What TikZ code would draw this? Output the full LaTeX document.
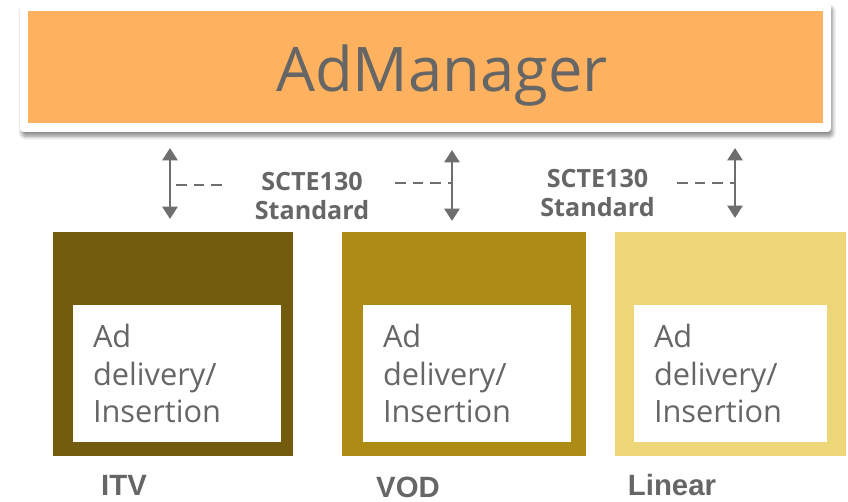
\documentclass[tikz,border=0pt]{standalone}
\usepackage{fontspec}
\setmainfont{Open Sans}
\newfontfamily\labelfont{Liberation Sans}
\usepackage{tikz}
\usetikzlibrary{arrows.meta, positioning, shadows.blur}
\definecolor{AdOrange}{HTML}{FEB25F}
\definecolor{AdGrey}{HTML}{666666}
\definecolor{AdArrow}{HTML}{6E6E6E}
\definecolor{ITVBrown}{HTML}{735C0E}
\definecolor{VODGold}{HTML}{AE8B14}
\definecolor{LinearSand}{HTML}{EDD677}
\tikzset{
    outerbox/.style={fill=#1, draw=none, inner sep=0pt},
    innerbox/.style={fill=white, draw=none, text=AdGrey, align=left, inner xsep=0.4cm, inner ysep=0pt,
        minimum height=2.74cm, font=\fontsize{17.5}{21.6}\selectfont},
    kindlabel/.style={anchor=base, text=AdGrey, inner sep=0pt, font=\labelfont\bfseries\fontsize{16.7}{20}\selectfont},
    stdlabel/.style={text=AdGrey, align=center, inner sep=0pt, font=\bfseries\fontsize{14.3}{17}\selectfont},
    linkarrow/.style={AdArrow, line width=1.5pt, {Triangle[length=7pt,width=8.5pt]}-{Triangle[length=7pt,width=8.5pt]}},
    linkdash/.style={AdArrow, line width=1.4pt, dash pattern=on 6pt off 4pt}
}

\begin{document}
\begin{tikzpicture}[x=0.02cm, y=-0.02cm]

    \useasboundingbox (0,0) rectangle (848,502);

    % AdManager
    \node[fill=white, rounded corners=2pt, minimum width=16.22cm, minimum height=2.58cm, inner sep=0pt,
        blur shadow={shadow xshift=1pt, shadow yshift=-2.5pt, shadow blur steps=6, shadow opacity=45}]
        (frame) at (425.5,67.5) {};
    \node[outerbox=AdOrange, minimum width=15.9cm, minimum height=2.24cm] (admgr) at (425.5,67) {};
    \node[anchor=base, text=AdGrey, inner sep=0pt, font=\fontsize{35}{40}\selectfont] (admgrtxt) at (442,92) {AdManager};

    % Delivery boxes
    \node[outerbox=ITVBrown, minimum width=4.8cm, minimum height=4.48cm] (itv) at (173,344) {};
    \node[innerbox, text width=3.36cm] (itvin) at (177,373.5) {Ad\\delivery/\\Insertion};
    \node[kindlabel] (itvlbl) at (124,496) {ITV};

    \node[outerbox=VODGold, minimum width=4.88cm, minimum height=4.48cm] (vod) at (464,344) {};
    \node[innerbox, text width=3.36cm] (vodin) at (467,373.5) {Ad\\delivery/\\Insertion};
    \node[kindlabel] (vodlbl) at (408,498) {VOD};

    \node[outerbox=LinearSand, minimum width=4.62cm, minimum height=4.48cm] (linear) at (730.5,344) {};
    \node[innerbox, text width=3.06cm] (linearin) at (730.5,373.5) {Ad\\delivery/\\Insertion};
    \node[kindlabel] (linearlbl) at (672,496) {Linear};

    % SCTE130 links
    \coordinate (a1t) at (170,148);
    \coordinate (a1b) at (170,219);
    \coordinate (a2t) at (452,150);
    \coordinate (a2b) at (452,221);
    \coordinate (a3t) at (735,148);
    \coordinate (a3b) at (735,218);
    \draw[linkarrow] (a1t) -- (a1b);
    \draw[linkarrow] (a2t) -- (a2b);
    \draw[linkarrow] (a3t) -- (a3b);

    \coordinate (d1) at (222,185);
    \coordinate (d2) at (395,183);
    \coordinate (d3) at (677,183);
    \draw[linkdash] (d1) -- (d1 -| a1t);
    \draw[linkdash] (d2) -- (d2 -| a2t);
    \draw[linkdash] (d3) -- (d3 -| a3t);

    \node[stdlabel] (std1) at (312,196) {SCTE130\\Standard};
    \node[stdlabel] (std2) at (597.5,193) {SCTE130\\Standard};

\end{tikzpicture}
\end{document}
